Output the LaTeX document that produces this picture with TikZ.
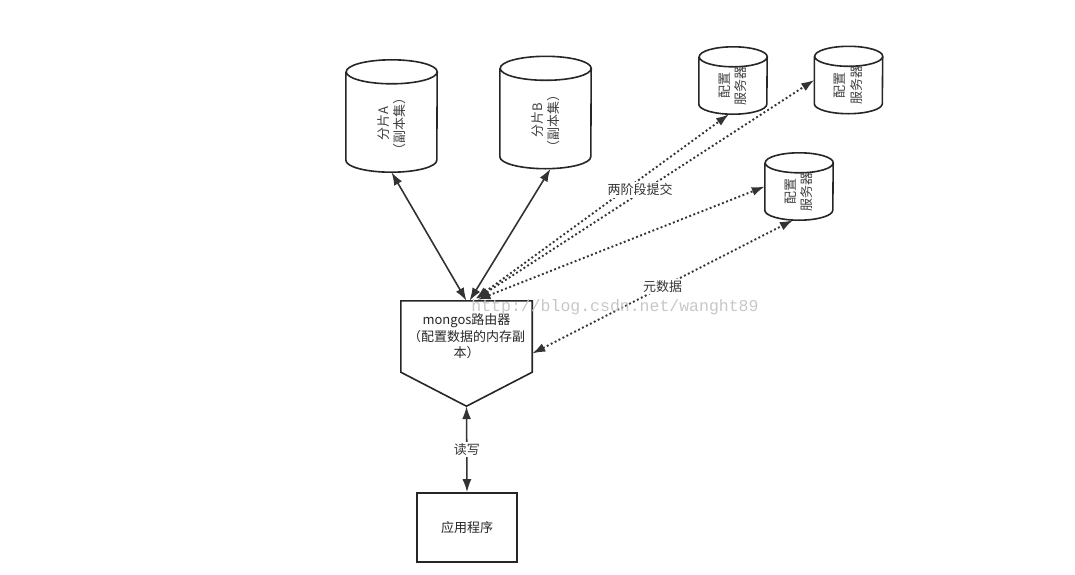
\documentclass[tikz,border=0pt]{standalone}
\usepackage{fontspec}
\setmainfont{Noto Sans CJK SC}
\newfontfamily\markfont{Liberation Mono}
\usetikzlibrary{arrows.meta,positioning}

\tikzset{
  db/.style={minimum width=91pt, minimum height=112pt, inner sep=0pt},
  cfg/.style={minimum width=68pt, minimum height=67pt, inner sep=0pt},
  drumline/.style={line width=1.6pt, draw=black!85},
  dbtext/.style={rotate=90, align=center, inner sep=0pt, text=black!75},
  link/.style={{Latex[length=13pt,width=9pt]}-{Latex[length=13pt,width=9pt]}, line width=1.6pt, draw=black!80},
  sync/.style={link, line width=1.9pt, dash pattern=on 1.9pt off 2.5pt},
  tag/.style={fill=white, inner sep=1.5pt, text=black!80},
}
% cylinder outline round a named node: name, x radius, y radius
\newcommand{\drum}[3]{%
  \draw[drumline] ([yshift=-#3]#1.north west) -- ([yshift=#3]#1.south west)
    arc[start angle=180, end angle=360, x radius=#2, y radius=#3]
    -- ([yshift=-#3]#1.north east)
    arc[start angle=0, end angle=360, x radius=#2, y radius=#3];}

\begin{document}
\begin{tikzpicture}[x=1pt,y=1pt,font=\fontsize{13}{16.5}\selectfont]
\useasboundingbox (0,0) rectangle (1075,-574);

% shards
\node[db] (shardA) at (391.5,-116) {};
\drum{shardA}{45.5pt}{12pt}
\node[dbtext] at ([yshift=-8pt]shardA.center) {分片A\\（副本集）};
\node[db] (shardB) at (545.5,-112.5) {};
\drum{shardB}{45.5pt}{12pt}
\node[dbtext] at ([yshift=-8pt]shardB.center) {分片B\\（副本集）};

% config servers
\node[cfg] (conf1) at (733,-80.5) {};
\drum{conf1}{34pt}{10pt}
\node[dbtext] at ([yshift=-5pt]conf1.center) {配置\\服务器};
\node[cfg] (conf2) at (848.5,-80) {};
\drum{conf2}{34pt}{10pt}
\node[dbtext] at ([yshift=-5pt]conf2.center) {配置\\服务器};
\node[cfg] (conf3) at (799,-186.5) {};
\drum{conf3}{34pt}{10pt}
\node[dbtext] at ([yshift=-5pt]conf3.center) {配置\\服务器};

% router
\node[minimum width=131pt, minimum height=71pt, align=center, text=black!85] (router) at (466.5,-336.5)
  {mongos路由器\\（配置数据的内存副\\本）};
\coordinate (tip) at ([yshift=-34pt]router.south);
\draw[line width=1.6pt, black!85] (router.north west) -- (router.north east) -- (router.south east)
  -- (tip) -- (router.south west) -- cycle;

% application
\node[draw=black!85, line width=1.6pt, minimum width=100pt, minimum height=69pt, text=black!85]
  (app) at (467,-527.5) {应用程序};

% links
\draw[link] (shardA.south) -- (router.north);
\draw[link] ([xshift=5pt]shardB.south) -- ([xshift=3pt]router.north);
\draw[link] (tip) -- node[tag] (rw) {读写} (app.north);

\draw[sync] ([xshift=9pt,yshift=2pt]router.north) -- ([xshift=-4pt]conf1.south);
\draw[sync] ([xshift=10pt,yshift=2pt]router.north) -- (conf2.west);
\draw[sync] ([xshift=11pt,yshift=1pt]router.north) -- (conf3.west);
\node[tag] (commit) at (640,-190) {两阶段提交};
\draw[sync] ([yshift=-17pt]router.east) -- node[tag] (meta) {元数据} ([xshift=-6pt]conf3.south);

% watermark
\node[text=black!22, font=\markfont\fontsize{16.5}{18}\selectfont, inner sep=0pt] (mark) at (615,-307)
  {http://blog.csdn.net/wanght89};
\end{tikzpicture}
\end{document}
